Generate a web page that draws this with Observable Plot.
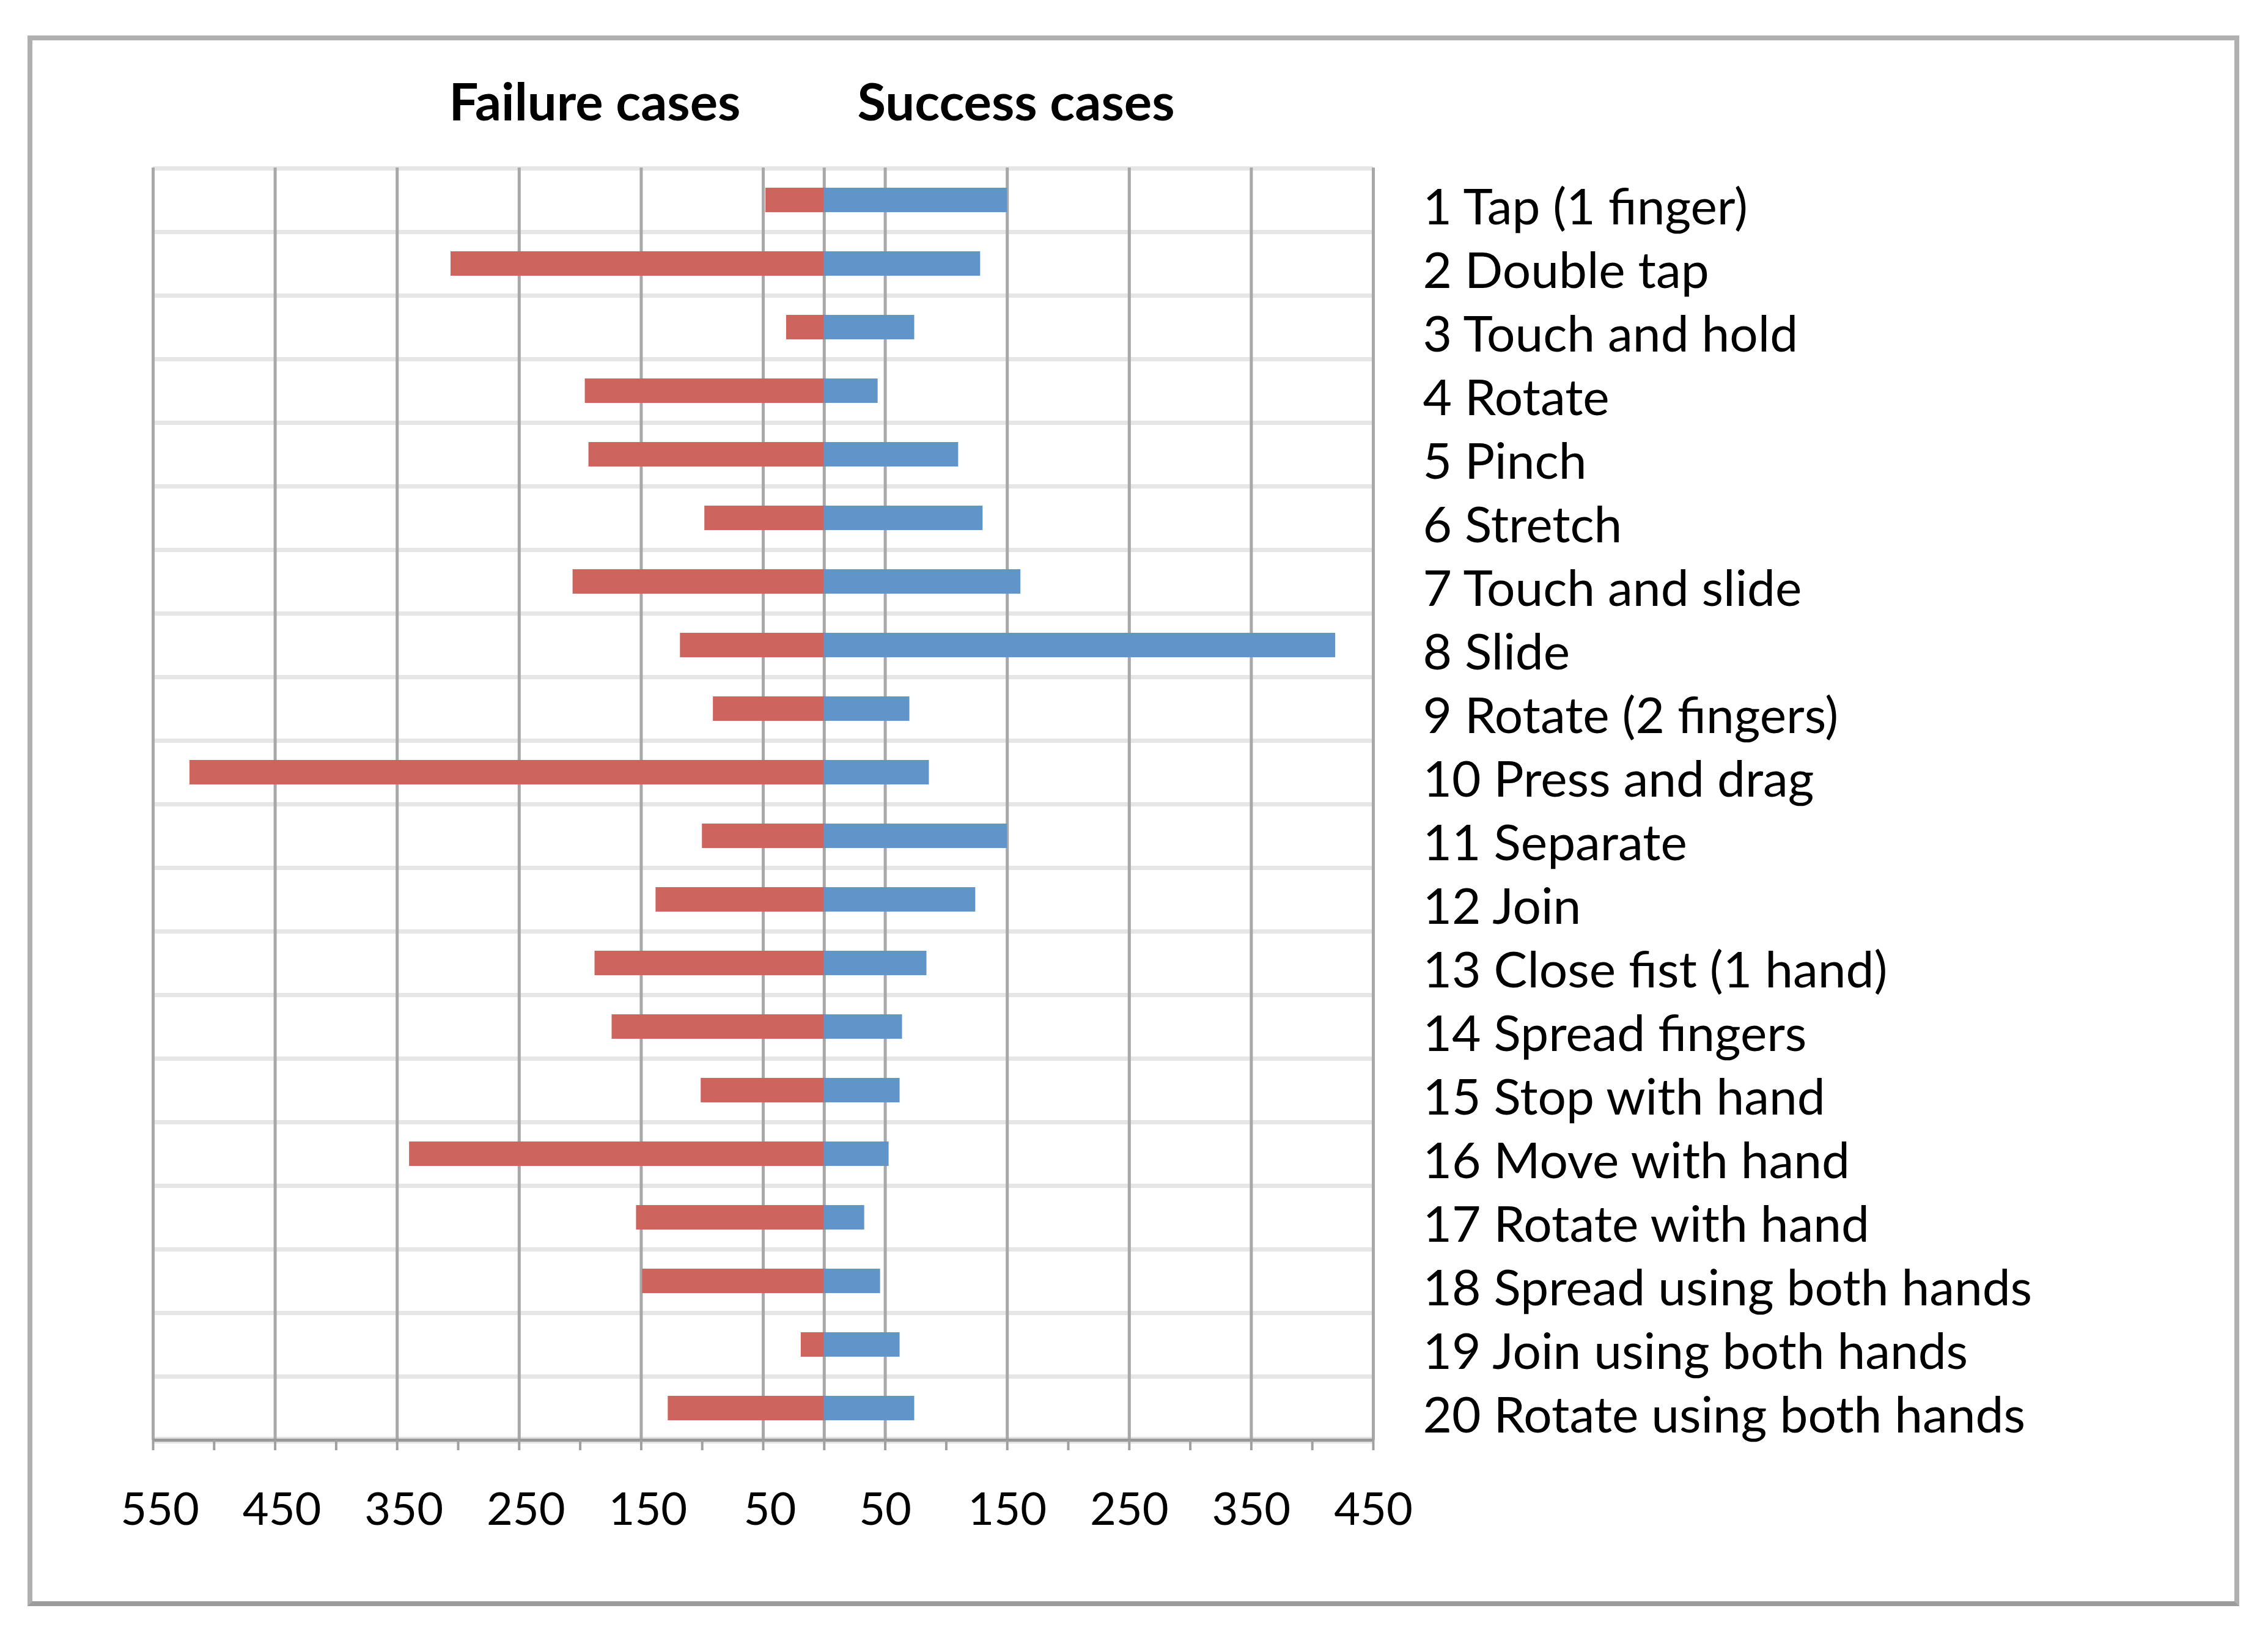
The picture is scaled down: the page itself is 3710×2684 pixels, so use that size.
<!DOCTYPE html>
<html>
<head>
<meta charset="utf-8">
<script src="https://cdn.jsdelivr.net/npm/d3@7"></script>
<script src="https://cdn.jsdelivr.net/npm/@observablehq/plot@0.6"></script>
<style>
  html, body { margin: 0; padding: 0; background: #ffffff; overflow: hidden; }
  #wrap { position: relative; width: 3710px; height: 2684px; background: #ffffff; }
  #chart { position: absolute; left: 0; top: 0; }
  .frameBox { position: absolute; left: 45px; top: 58px; width: 3618px; height: 2569px;
              box-sizing: border-box; border: 8px solid #b0b0b0; border-bottom-color: #9c9c9c; }
  .title { position: absolute; top: 122px; transform: translateX(-50%); white-space: nowrap;
           font-family: Lato, sans-serif; font-weight: 700; font-size: 85px; line-height: 85px; color: #000; }
</style>
</head>
<body>
<div id="wrap">
  <div class="frameBox"></div>
  <div class="title" style="left:973px">Failure cases</div>
  <div class="title" style="left:1662px">Success cases</div>
  <div id="chart"></div>
</div>
<script>
const categories = [
  "1 Tap (1 finger)", "2 Double tap", "3 Touch and hold", "4 Rotate", "5 Pinch",
  "6 Stretch", "7 Touch and slide", "8 Slide", "9 Rotate (2 fingers)", "10 Press and drag",
  "11 Separate", "12 Join", "13 Close fist (1 hand)", "14 Spread fingers", "15 Stop with hand",
  "16 Move with hand", "17 Rotate with hand", "18 Spread using both hands", "19 Join using both hands",
  "20 Rotate using both hands"
];
const failureCases = [48, 306, 31, 196, 193, 98, 206, 118, 91, 520, 100, 138, 188, 174, 101, 340, 154, 149, 19, 128];
const successCases = [150, 128, 74, 44, 110, 130, 161, 419, 70, 86, 150, 124, 84, 64, 62, 53, 33, 46, 62, 74];
const gridValues = [-550, -450, -350, -250, -150, -50, 0, 50, 150, 250, 350, 450];
const negativeTickLabels = [-550, -450, -350, -250, -150, -50];
const positiveTickLabels = [50, 150, 250, 350, 450];
const minorTicks = [-550, -500, -450, -400, -350, -300, -250, -200, -150, -100, -50, 0,
                    50, 100, 150, 200, 250, 300, 350, 400, 450];

const rows = categories.map((name, i) => ({name, failure: failureCases[i], success: successCases[i]}));

const W = 3710, H = 2684;
const mTop = 274, mBottom = 329, mLeft = 250, mRight = 1464;
const band = (H - mTop - mBottom) / categories.length;
const barInset = (band - 40) / 2;

const chart = Plot.plot({
  width: W,
  height: H,
  marginTop: mTop,
  marginBottom: mBottom,
  marginLeft: mLeft,
  marginRight: mRight,
  style: {fontFamily: "Lato, sans-serif", background: "transparent", color: "#000"},
  x: {domain: [-550, 450], label: null},
  y: {domain: categories, padding: 0, label: null},
  marks: [
    // light horizontal separators at the top of each row
    Plot.ruleY(categories, {y: d => d, dy: -band / 2, stroke: "#e6e6e6", strokeWidth: 7}),
    // bottom axis band
    Plot.ruleY(categories.slice(-1), {y: d => d, dy: band / 2, stroke: "#e3e3e3", strokeWidth: 11}),
    // vertical grid lines
    Plot.ruleX(gridValues, {stroke: "#a8a8a8", strokeWidth: 5}),
    // bars
    Plot.barX(rows, {y: "name", x1: 0, x2: d => -d.failure, fill: "#cd645e", insetTop: barInset, insetBottom: barInset}),
    Plot.barX(rows, {y: "name", x1: 0, x2: d => d.success, fill: "#6195c9", insetTop: barInset, insetBottom: barInset}),
    // axis line
    Plot.ruleY(categories.slice(-1), {y: d => d, dy: band / 2, stroke: "#999999", strokeWidth: 5}),
    // ticks every 50
    Plot.axisX({ticks: minorTicks, tickSize: 17, tickFormat: () => "", stroke: "#a0a0a0", strokeWidth: 4, label: null}),
    // tick labels (absolute values)
    Plot.axisX({ticks: negativeTickLabels, tickSize: 0, tickPadding: 86, tickFormat: d => Math.abs(d),
                fontSize: 74, dx: 11, fill: "#000", label: null}),
    Plot.axisX({ticks: positiveTickLabels, tickSize: 0, tickPadding: 86, tickFormat: d => Math.abs(d),
                fontSize: 74, fill: "#000", label: null}),
    // category labels on the right
    Plot.axisY({anchor: "right", tickSize: 0, tickPadding: 81, fontSize: 82, dy: 13,
                textAnchor: "start", fill: "#000", label: null})
  ]
});
document.getElementById("chart").appendChild(chart);
</script>
</body>
</html>
